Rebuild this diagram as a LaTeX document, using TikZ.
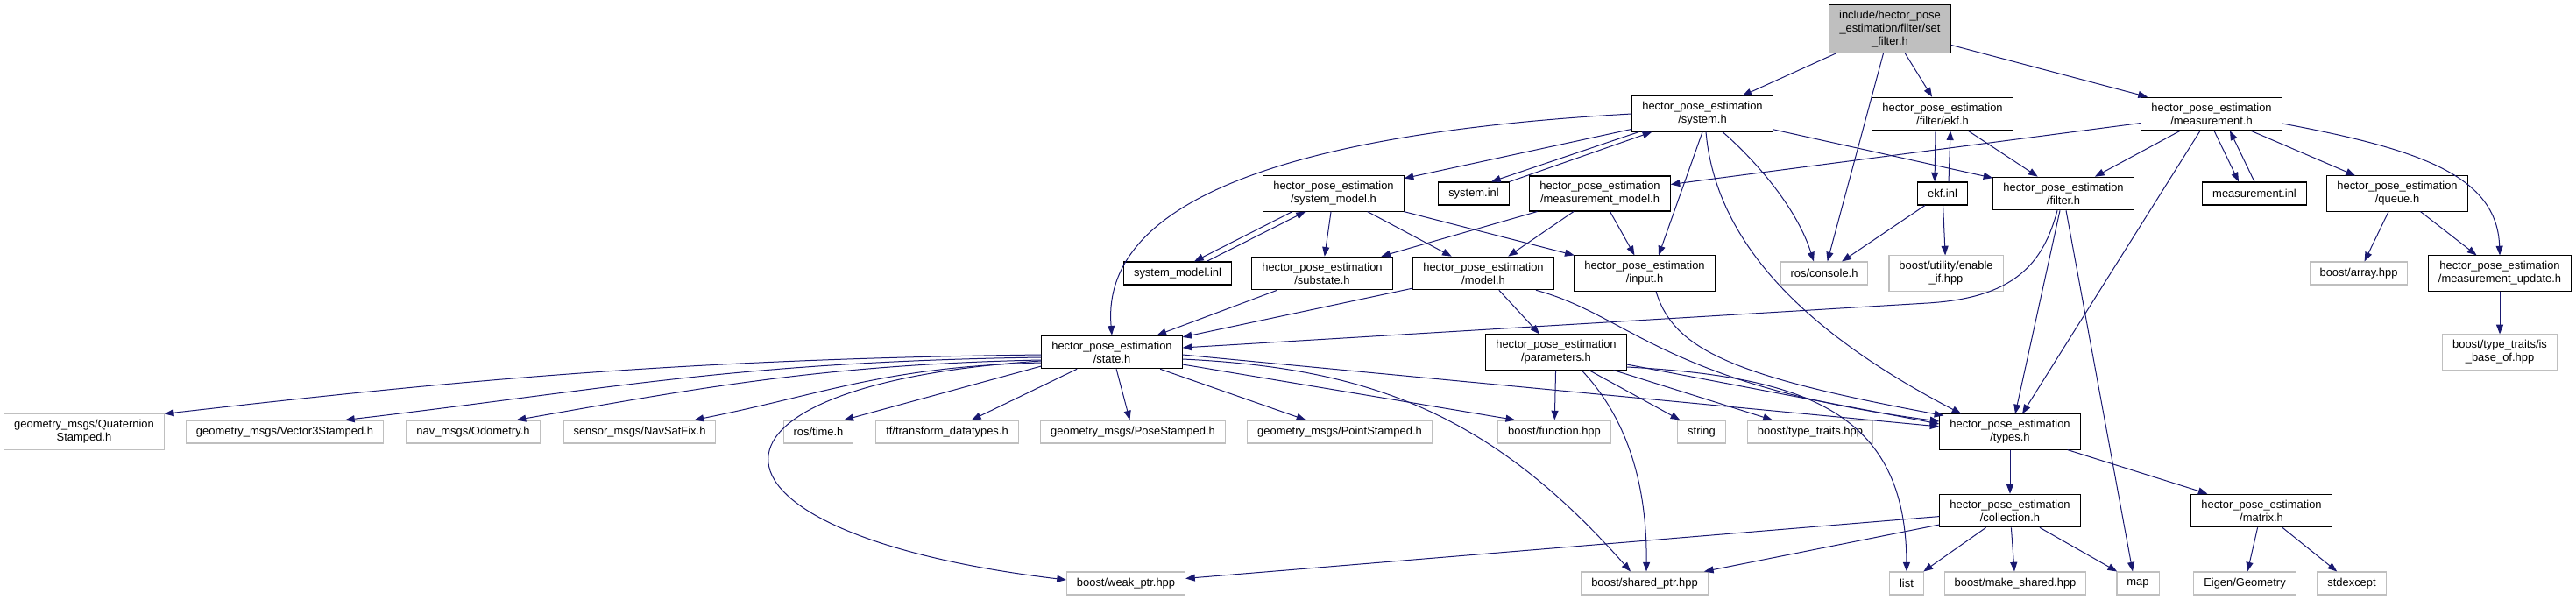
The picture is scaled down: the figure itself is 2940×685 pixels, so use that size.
\documentclass[tikz,border=0pt]{standalone}
\usepackage{fontspec}
\setmainfont{Liberation Sans}
\usepackage{tikz}
\usetikzlibrary{arrows.meta,calc}
\definecolor{cedge}{HTML}{191970}
\definecolor{cgrey}{HTML}{BFBFBF}
\tikzset{>={Triangle[length=8pt,width=6pt]},
  hdr/.style={draw=black,fill=white,line width=0.8pt,align=center,
    inner xsep=8.6pt,inner ysep=4.9pt,minimum height=19.5pt},
  ext/.style={hdr,draw=cgrey},
  top/.style={hdr,fill=cgrey},
  dep/.style={->,cedge,line width=0.75pt},
}

\begin{document}
\begin{tikzpicture}[x=0.75pt,y=-0.75pt,font=\fontsize{9.7pt}{11.25pt}\selectfont]
  % include graph of set_filter.h
  \useasboundingbox (0,0) rectangle (2940,685);

  \node[top] (root) at (2157,33) {include/hector\_pose\\\_estimation/filter/set\\\_filter.h};

  \node[hdr] (sysh)  at (1943,130) {hector\_pose\_estimation\\/system.h};
  \node[hdr] (ekfh)  at (2217,130) {hector\_pose\_estimation\\/filter/ekf.h};
  \node[hdr] (meash) at (2524,130) {hector\_pose\_estimation\\/measurement.h};

  \node[hdr] (sysmodel)  at (1522,221) {hector\_pose\_estimation\\/system\_model.h};
  \node[hdr] (sysinl)    at (1682,221) {system.inl};
  \node[hdr] (measmodel) at (1826,221) {hector\_pose\_estimation\\/measurement\_model.h};
  \node[hdr] (ekfinl)    at (2217,221) {ekf.inl};
  \node[hdr] (filterh)   at (2355,221) {hector\_pose\_estimation\\/filter.h};
  \node[hdr] (measinl)   at (2573,221) {measurement.inl};
  \node[hdr] (queueh)    at (2736,221) {hector\_pose\_estimation\\/queue.h};

  \node[hdr] (sysmodelinl) at (1344,312) {system\_model.inl};
  \node[hdr] (substate)    at (1509,312) {hector\_pose\_estimation\\/substate.h};
  \node[hdr] (modelh)      at (1693,312) {hector\_pose\_estimation\\/model.h};
  \node[hdr] (inputh)      at (1877,312) {hector\_pose\_estimation\\/input.h};
  \node[ext] (console)     at (2082,312) {ros/console.h};
  \node[ext] (enableif)    at (2221,312) {boost/utility/enable\\\_if.hpp};
  \node[ext] (arrayh)      at (2692,312) {boost/array.hpp};
  \node[hdr] (measupd)     at (2853,312) {hector\_pose\_estimation\\/measurement\_update.h};

  \node[hdr] (stateh) at (1269,402) {hector\_pose\_estimation\\/state.h};
  \node[hdr] (params) at (1776,402) {hector\_pose\_estimation\\/parameters.h};
  \node[ext] (isbase) at (2853,402) {boost/type\_traits/is\\\_base\_of.hpp};

  \node[ext] (quat)    at (96,493)   {geometry\_msgs/Quaternion\\Stamped.h};
  \node[ext] (vec3)    at (325,493)  {geometry\_msgs/Vector3Stamped.h};
  \node[ext] (odom)    at (540,493)  {nav\_msgs/Odometry.h};
  \node[ext] (navsat)  at (730,493)  {sensor\_msgs/NavSatFix.h};
  \node[ext] (rostime) at (934,493)  {ros/time.h};
  \node[ext] (tfdt)    at (1081,493) {tf/transform\_datatypes.h};
  \node[ext] (pose)    at (1293,493) {geometry\_msgs/PoseStamped.h};
  \node[ext] (point)   at (1529,493) {geometry\_msgs/PointStamped.h};
  \node[ext] (func)    at (1774,493) {boost/function.hpp};
  \node[ext] (stringh) at (1942,493) {string};
  \node[ext] (ttraits) at (2066,493) {boost/type\_traits.hpp};
  \node[hdr] (typesh)  at (2294,493) {hector\_pose\_estimation\\/types.h};

  \node[hdr] (collect) at (2294,583) {hector\_pose\_estimation\\/collection.h};
  \node[hdr] (matrixh) at (2581,583) {hector\_pose\_estimation\\/matrix.h};

  \node[ext] (weakptr)   at (1285,666) {boost/weak\_ptr.hpp};
  \node[ext] (sharedptr) at (1877,666) {boost/shared\_ptr.hpp};
  \node[ext] (listh)     at (2176,666) {list};
  \node[ext] (mkshared)  at (2300,666) {boost/make\_shared.hpp};
  \node[ext] (maph)      at (2440,666) {map};
  \node[ext] (eigen)     at (2562,666) {Eigen/Geometry};
  \node[ext] (stdexc)    at (2684,666) {stdexcept};

  \draw[dep] (root) -- (sysh);
  \draw[dep] (root) -- (console);
  \draw[dep] (root) -- (ekfh);
  \draw[dep] (root) -- (meash);

  \draw[dep] (sysh) -- (sysmodel);
  \draw[dep] ($(sysh.south west)+(8,0)$) -- ($(sysinl.north)+(20,0)$);
  \draw[dep] (sysinl.north east) -- ($(sysh.south west)+(23,0)$);
  \draw[dep] (sysh.west) .. controls (1500,150) and (1255,220) .. (stateh.north);
  \draw[dep] (sysh.south) -- ($(inputh.north)+(16,0)$);
  \draw[dep] ($(sysh.south)+(23,0)$) .. controls (2000,180) and (2050,235) .. ($(console.north)+(-12,0)$);
  \draw[dep] ($(sysh.south)+(4,0)$) .. controls (1960,300) and (2100,400) .. ($(typesh.north west)+(25,0)$);
  \draw[dep] (sysh) -- (filterh);

  \draw[dep] ($(ekfh.south)+(-8,0)$) -- ($(ekfinl.north)+(-9,0)$);
  \draw[dep] ($(ekfinl.north)+(7,0)$) -- ($(ekfh.south)+(9,0)$);
  \draw[dep] (ekfh) -- (filterh);
  \draw[dep] (ekfinl) -- (console);
  \draw[dep] (ekfinl) -- (enableif);

  \draw[dep] (meash) -- (measmodel);
  \draw[dep] (meash) -- (filterh);
  \draw[dep] ($(meash.south)+(3,0)$) -- ($(measinl.north)+(-18,0)$);
  \draw[dep] (measinl.north) -- ($(meash.south)+(21,0)$);
  \draw[dep] (meash) -- (queueh);
  \draw[dep] ($(meash.east)+(0,11)$) .. controls (2760,170) and (2850,200) .. (measupd.north);
  \draw[dep] ($(meash.south)+(-13,0)$) -- ($(typesh.north)+(14,0)$);

  \draw[dep] ($(filterh.south)+(-7,0)$) .. controls (2332,300) and (2300,340) .. (2200,346) -- ($(stateh.east)+(0,-5)$);
  \draw[dep] ($(filterh.south)+(-4,0)$) -- ($(typesh.north)+(6,0)$);
  \draw[dep] ($(filterh.south)+(3,0)$) -- ($(maph.north)+(-6,0)$);

  \draw[dep] (queueh) -- (arrayh);
  \draw[dep] (queueh) -- (measupd);
  \draw[dep] (measupd) -- (isbase);

  \draw[dep] ($(sysmodel.south)+(-47,0)$) -- ($(sysmodelinl.north)+(19,0)$);
  \draw[dep] ($(sysmodelinl.north)+(33,0)$) -- ($(sysmodel.south)+(-32,0)$);
  \draw[dep] (sysmodel) -- (substate);
  \draw[dep] (sysmodel) -- (modelh);
  \draw[dep] (sysmodel) -- (inputh);
  \draw[dep] (measmodel) -- (substate);
  \draw[dep] (measmodel) -- (modelh);
  \draw[dep] (measmodel) -- (inputh);

  \draw[dep] (substate) -- (stateh);
  \draw[dep] (modelh) -- (stateh);
  \draw[dep] (modelh) -- (params);
  \draw[dep] ($(modelh.south)+(60,0)$) .. controls (1860,360) and (1900,440) .. ($(typesh.west)+(0,-12)$);
  \draw[dep] ($(inputh.south)+(13,0)$) .. controls (1910,400) and (1980,430) .. ($(typesh.north west)+(5,2)$);

  \draw[dep] ($(stateh.east)+(0,3)$) -- ($(typesh.west)+(0,-6)$);
  \draw[dep] ($(stateh.east)+(0,14)$) -- ($(func.north west)+(20,0)$);
  \draw[dep] ($(stateh.east)+(0,8)$) .. controls (1560,420) and (1700,470) .. ($(sharedptr.north)+(-16,0)$);
  \draw[dep] ($(stateh.west)+(0,10)$) .. controls (760,440) and (780,610) .. ($(weakptr.west)+(0,-4)$);
  \draw[dep] ($(stateh.west)+(0,16)$) -- ($(rostime.north east)+(-11,0)$);
  \draw[dep] ($(stateh.west)+(0,12)$) .. controls +(-180,5) and +(150,-30) .. ($(navsat.north east)+(-25,0)$);
  \draw[dep] ($(stateh.west)+(0,9)$) .. controls +(-250,5) and +(200,-35) .. ($(odom.north east)+(-27,0)$);
  \draw[dep] ($(stateh.west)+(0,6)$) .. controls +(-350,5) and +(300,-35) .. ($(vec3.north east)+(-44,0)$);
  \draw[dep] ($(stateh.west)+(0,3)$) .. controls +(-400,5) and +(350,-40) .. (quat.north east);
  \draw[dep] (stateh) -- (tfdt);
  \draw[dep] (stateh) -- (pose);
  \draw[dep] (stateh) -- (point);

  \draw[dep] (params) -- (func);
  \draw[dep] ($(params.south)+(29,0)$) .. controls (1850,470) and (1880,540) .. ($(sharedptr.north)+(2,0)$);
  \draw[dep] (params) -- (stringh);
  \draw[dep] (params) -- (ttraits);
  \draw[dep] ($(params.east)+(0,14)$) -- ($(typesh.west)+(0,-9)$);
  \draw[dep] ($(params.east)+(0,17)$) .. controls (2060,430) and (2175,470) .. (listh.north);

  \draw[dep] (typesh) -- (collect);
  \draw[dep] (typesh) -- (matrixh);
  \draw[dep] (collect) -- (weakptr);
  \draw[dep] (collect) -- (sharedptr);
  \draw[dep] (collect) -- (listh);
  \draw[dep] (collect) -- (mkshared);
  \draw[dep] (collect) -- (maph);
  \draw[dep] (matrixh) -- (eigen);
  \draw[dep] (matrixh) -- (stdexc);
\end{tikzpicture}
\end{document}
